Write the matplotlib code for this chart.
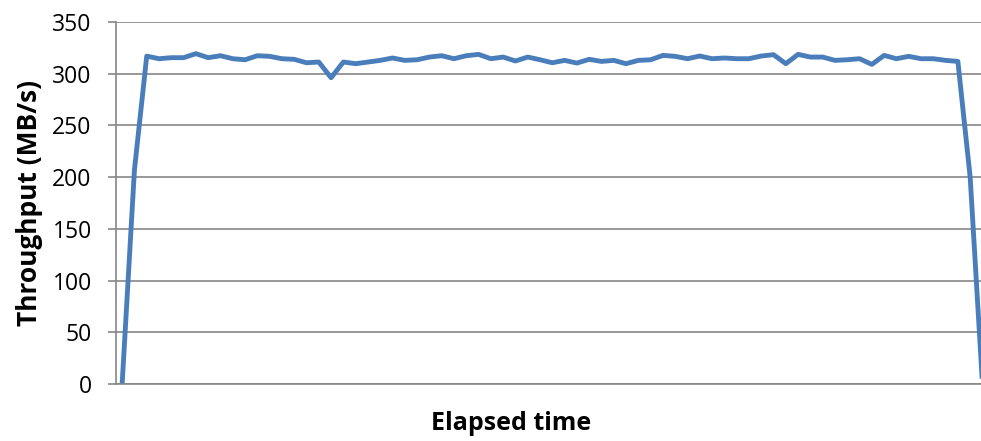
import matplotlib.pyplot as plt

# throughput samples (MB/s), one per interval
throughput = [
    0, 207, 317, 314.5, 315.5, 315.5, 319.4, 315.5, 317.4, 314.5,
    313.5, 317.4, 316.8, 314.5, 313.9, 310.6, 311.3, 296.1, 311.3, 309.7,
    311.3, 312.9, 315.2, 312.9, 313.5, 316.1, 317.4, 314.5, 317.4, 318.7,
    314.5, 316.1, 312.3, 316.1, 313.5, 310.6, 312.9, 310.3, 313.9, 311.9,
    312.9, 309.7, 312.9, 313.5, 317.7, 316.8, 314.5, 317.1, 314.5, 315.2,
    314.5, 314.5, 317.1, 318.4, 309.7, 318.7, 316.1, 316.1, 312.9, 313.5,
    314.5, 309.0, 317.7, 314.5, 316.8, 314.5, 314.5, 312.9, 311.9, 200,
    0,
]
y_ticks = [0, 50, 100, 150, 200, 250, 300, 350]

plt.rcParams['font.family'] = ['Open Sans', 'DejaVu Sans']

fig = plt.figure(figsize=(9.81, 4.41), dpi=100)
# plot area runs slightly past the right edge, as in the original
ax = fig.add_axes([116 / 981, 1 - 384 / 441, 872.6 / 981, 362 / 441])

ax.plot(range(len(throughput)), throughput, color='#4a7ebb', linewidth=3.5,
        solid_joinstyle='round')

ax.set_xlim(-0.5, len(throughput) - 0.5)
ax.set_ylim(0, 350)
ax.set_yticks(y_ticks)
ax.set_xticks([])
ax.grid(axis='y', color='#868686', linewidth=1.2)
ax.set_axisbelow(True)

for side in ['top', 'right']:
    ax.spines[side].set_visible(False)
for side in ['left', 'bottom']:
    ax.spines[side].set_color('#868686')
    ax.spines[side].set_linewidth(1.2)

ax.tick_params(axis='y', length=5.5, width=1.2, color='#868686', pad=12,
               labelsize=16.5, labelcolor='black')

ax.set_ylabel('Throughput (MB/s)', fontsize=19, fontweight='bold')
ax.yaxis.set_label_coords((43 - 116) / 872.6, 0.5)
fig.text(511 / 981, 1 - 423 / 441, 'Elapsed time', fontsize=18,
         fontweight='bold', ha='center', va='center')

fig.savefig('out.png', dpi=100)
